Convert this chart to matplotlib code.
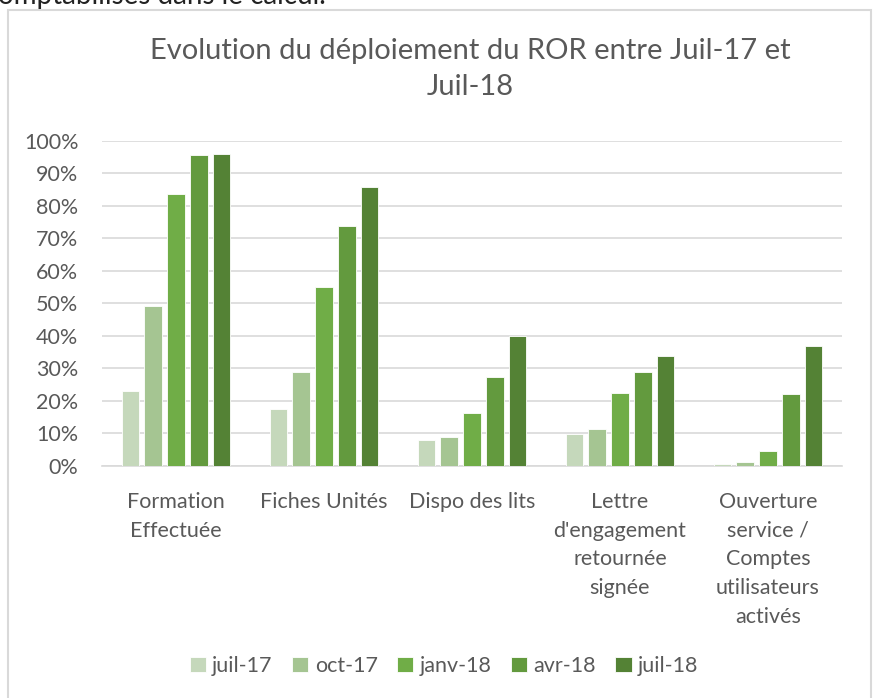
import matplotlib
matplotlib.use('Agg')
import matplotlib.pyplot as plt
import numpy as np
from matplotlib.patches import Rectangle

# data
categories = ["Formation\nEffectuée", "Fiches Unités", "Dispo des lits",
              "Lettre\nd'engagement\nretournée\nsignée",
              "Ouverture\nservice /\nComptes\nutilisateurs\nactivés"]
periods = ["juil-17", "oct-17", "janv-18", "avr-18", "juil-18"]
juil17 = [0.231, 0.175, 0.079, 0.098, 0.004]
oct17 = [0.492, 0.288, 0.089, 0.111, 0.012]
janv18 = [0.838, 0.549, 0.163, 0.223, 0.044]
avr18 = [0.957, 0.738, 0.274, 0.288, 0.219]
juil18 = [0.959, 0.858, 0.398, 0.337, 0.368]
colors = ["#C5D8BB", "#A5C592", "#70AD47", "#639A3E", "#548235"]

plt.rcParams['font.family'] = ['Lato', 'DejaVu Sans']
TXT = '#595959'
FS = 15.5

fig = plt.figure(figsize=(8.75, 6.98), dpi=100)
ax = fig.add_axes([102 / 875, 1 - 465.5 / 698, 740 / 875, 324.5 / 698])

# outer chart frame (cut at the bottom of the screenshot)
fig.patches.append(Rectangle((8 / 875, -0.05), 863 / 875, 1 - 10 / 698 + 0.05,
                             transform=fig.transFigure, fill=False,
                             edgecolor='#D9D9D9', linewidth=1.5))
fig.text(-0.002, 1 - 4 / 698, "omptabilisés dans le calcul.", fontsize=20,
         color='#222222', va='baseline', ha='left')

x = np.arange(len(categories))
step, width = 0.154, 0.118
for i, (vals, lab) in enumerate(zip([juil17, oct17, janv18, avr18, juil18], periods)):
    ax.bar(x + (i - 2) * step, vals, width, color=colors[i], label=lab,
           edgecolor='white', linewidth=0.6, zorder=3)

ax.set_xlim(-0.5, len(categories) - 0.5)
ax.set_ylim(0, 1.0)
ax.set_yticks(np.arange(0, 1.01, 0.1))
ax.set_yticklabels([f"{int(round(v * 100))}%" for v in np.arange(0, 1.01, 0.1)])
ax.yaxis.grid(True, color='#D9D9D9', linewidth=1.2, zorder=0)
ax.set_axisbelow(True)
for s in ['top', 'right', 'left']:
    ax.spines[s].set_visible(False)
ax.spines['bottom'].set_color('#D9D9D9')
ax.spines['bottom'].set_linewidth(1.2)
ax.tick_params(length=0, labelsize=FS, colors=TXT, pad=17)
ax.set_xticks(x)
ax.set_xticklabels(categories, linespacing=1.55)
ax.tick_params(axis='x', pad=19)

fig.text(470 / 875, 1 - 69 / 698,
         "Evolution du déploiement du ROR entre Juil-17 et\nJuil-18",
         ha='center', va='center', fontsize=21, color=TXT, linespacing=1.45)

leg = fig.legend(loc='center', bbox_to_anchor=(444 / 875, 1 - 666 / 698), ncol=5,
                 frameon=False, fontsize=FS, handlelength=0.75, handleheight=0.75,
                 handletextpad=0.3, columnspacing=0.9)
for t in leg.get_texts():
    t.set_color(TXT)

fig.savefig('out.png', dpi=100)
